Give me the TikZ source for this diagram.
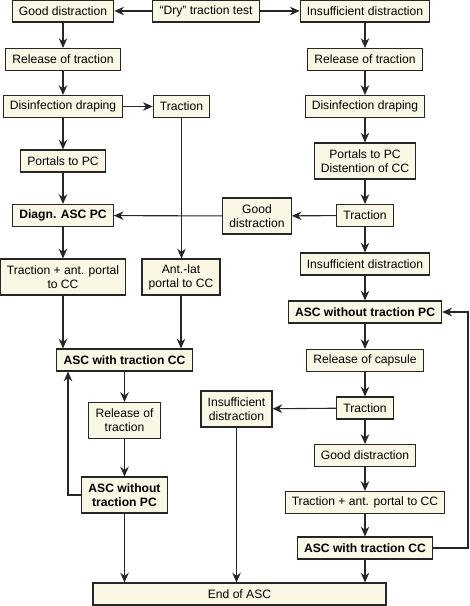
\documentclass[tikz,border=0pt]{standalone}
\usepackage{fontspec}
\setmainfont{Liberation Sans}
\usepackage{tikz}
\usetikzlibrary{positioning, arrows.meta}
\definecolor{boxfill}{HTML}{FAF7E4}

\begin{document}
\begin{tikzpicture}[
    x=0.029cm, y=-0.029cm,
    box/.style={rectangle, draw=black!85, fill=boxfill, line width=0.9pt,
                minimum height=0.638cm, inner xsep=5.5pt, inner ysep=2pt,
                align=center, font=\fontsize{10}{11.5}\selectfont},
    twoline/.style={box, minimum height=1.044cm},
    key/.style={font=\fontsize{10}{11.5}\selectfont\bfseries},
    arrow/.style={-{Stealth[length=8pt, width=7pt]}, line width=0.9pt, black!85}
  ]
    \useasboundingbox (0,0) rectangle (469,606);

    % Test at top
    \node[box] (dry-test) at (206, 11) {“Dry” traction test};
    \node[box] (good-top) at (63, 11) {Good distraction};
    \node[box] (insuf-top) at (365, 11) {Insufficient distraction};

    % Left branch
    \node[box] (rel-left) at (63, 59.5) {Release of traction};
    \node[box] (dis-left) at (63, 106.5) {Disinfection draping};
    \node[box] (trac-mid) at (181.5, 106.5) {Traction};
    \node[box] (port-left) at (63, 161) {Portals to PC};
    \node[box, key] (diagn) at (63, 215.5) {Diagn. ASC PC};
    \node[twoline] (tracport-left) at (63, 277) {Traction + ant. portal\\to CC};
    \node[twoline] (antlat) at (181, 277) {Ant.-lat\\portal to CC};
    \node[box, key] (asc-with-left) at (124.5, 360) {ASC with traction CC};
    \node[twoline] (rel-left2) at (124.5, 420.5) {Release of\\traction};
    \node[twoline, key] (asc-wo-left) at (124.5, 495) {ASC without\\traction PC};

    % Right branch
    \node[box] (rel-right) at (365, 59.5) {Release of traction};
    \node[box] (dis-right) at (365, 106.5) {Disinfection draping};
    \node[twoline] (port-right) at (365, 161) {Portals to PC\\Distention of CC};
    \node[box] (trac-right) at (365, 215.5) {Traction};
    \node[twoline] (good-mid) at (257, 216) {Good\\distraction};
    \node[box] (insuf-right) at (365, 264) {Insufficient distraction};
    \node[box, key] (asc-wo-right) at (365, 312) {ASC without traction PC};
    \node[box] (rel-cap) at (365, 360.5) {Release of capsule};
    \node[box] (trac-right2) at (365, 408) {Traction};
    \node[twoline] (insuf-mid) at (236.5, 409) {Insufficient\\distraction};
    \node[box] (good-right) at (365, 455.5) {Good distraction};
    \node[box] (tracport-right) at (365, 502.5) {Traction + ant. portal to CC};
    \node[box, key] (asc-with-right) at (365, 548) {ASC with traction CC};

    % End
    \node[box, minimum width=8.5cm] (end-asc) at (239.5, 594) {End of ASC};

    % Free ends of the loops
    \coordinate (loop-left) at (68, 495);
    \coordinate (loop-right) at (468, 548);

    % Arrows from the test
    \draw[arrow] (dry-test) -- (good-top);
    \draw[arrow] (dry-test) -- (insuf-top);

    % Arrows of the left branch
    \draw[arrow] (good-top) -- (rel-left);
    \draw[arrow] (rel-left) -- (dis-left);
    \draw[arrow] (dis-left) -- (trac-mid);
    \draw[arrow] (dis-left) -- (port-left);
    \draw[arrow] (port-left) -- (diagn);
    \draw[arrow] (diagn) -- (tracport-left);
    \draw[arrow] (trac-mid.south) -- (trac-mid.south |- antlat.north);
    \draw[arrow] (tracport-left.south) -- (tracport-left.south |- asc-with-left.north);
    \draw[arrow] (antlat.south) -- (antlat.south |- asc-with-left.north);
    \draw[arrow] (asc-with-left) -- (rel-left2);
    \draw[arrow] (rel-left2) -- (asc-wo-left);
    \draw[arrow] (asc-wo-left.west) -- (loop-left) -- (loop-left |- asc-with-left.south);
    \draw[arrow] (asc-wo-left.south) -- (asc-wo-left.south |- end-asc.north);

    % Arrows of the right branch
    \draw[arrow] (insuf-top) -- (rel-right);
    \draw[arrow] (rel-right) -- (dis-right);
    \draw[arrow] (dis-right) -- (port-right);
    \draw[arrow] (port-right) -- (trac-right);
    \draw[arrow] (trac-right) -- (good-mid);
    \draw[arrow] (good-mid) -- (diagn);
    \draw[arrow] (trac-right) -- (insuf-right);
    \draw[arrow] (insuf-right) -- (asc-wo-right);
    \draw[arrow] (asc-wo-right) -- (rel-cap);
    \draw[arrow] (rel-cap) -- (trac-right2);
    \draw[arrow] (trac-right2) -- (insuf-mid);
    \draw[arrow] (insuf-mid.south) -- (insuf-mid.south |- end-asc.north);
    \draw[arrow] (trac-right2) -- (good-right);
    \draw[arrow] (good-right) -- (tracport-right);
    \draw[arrow] (tracport-right) -- (asc-with-right);
    \draw[arrow] (asc-with-right.south) -- (asc-with-right.south |- end-asc.north);
    \draw[arrow] (asc-with-right.east) -- (loop-right) |- (asc-wo-right.east);

  \end{tikzpicture}
\end{document}
